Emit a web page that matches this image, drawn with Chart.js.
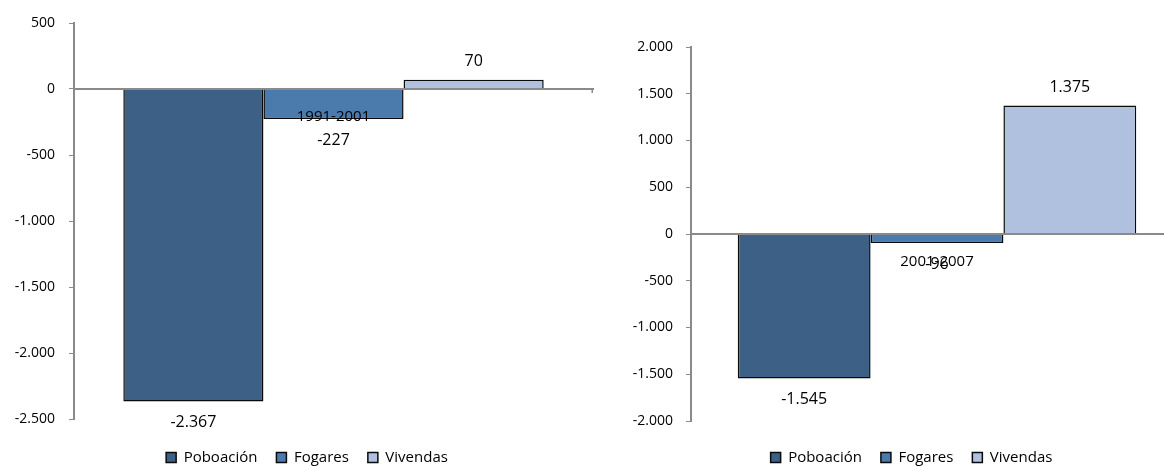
<!DOCTYPE html>
<html>
<head>
<meta charset="utf-8">
<script src="https://cdn.jsdelivr.net/npm/chart.js@4/dist/chart.umd.min.js"></script>
<style>
  html, body { margin: 0; padding: 0; background: #ffffff; width: 1164px; height: 466px; overflow: hidden; }
  .panel { position: absolute; top: 0; }
  #panelA { left: 0; }
  #panelB { left: 620px; }
</style>
</head>
<body>
<div class="panel" id="panelA"><canvas id="chartA" width="614" height="475"></canvas></div>
<div class="panel" id="panelB"><canvas id="chartB" width="563" height="475"></canvas></div>
<script>
// Series names and colours
const seriesNames = ['Poboación', 'Fogares', 'Vivendas'];
const seriesColors = ['#3D6087', '#4A7BAC', '#B0C0DF'];

// 1991-2001 variation
const periodA = ['1991-2001'];
const poboacionA = [-2367];
const fogaresA = [-227];
const vivendasA = [70];
const yTicksA = [-2500, -2000, -1500, -1000, -500, 0, 500];

// 2001-2007 variation
const periodB = ['2001-2007'];
const poboacionB = [-1545];
const fogaresB = [-96];
const vivendasB = [1375];
const yTicksB = [-2000, -1500, -1000, -500, 0, 500, 1000, 1500, 2000];

Chart.defaults.font.family = '"Open Sans", sans-serif';
Chart.defaults.color = '#000000';

const AXIS_GRAY = '#8a8a8a';

// Thousands separated with a dot: 2367 -> 2.367
function fmt(v) {
  const s = String(Math.abs(v)).replace(/\B(?=(\d{3})+(?!\d))/g, '.');
  return (v < 0 ? '-' : '') + s;
}

// Writes each bar's value beyond its end
const valueLabels = {
  id: 'valueLabels',
  afterDatasetsDraw(chart) {
    const ctx = chart.ctx;
    ctx.save();
    ctx.font = '16px "Open Sans", sans-serif';
    ctx.fillStyle = '#000000';
    ctx.textAlign = 'center';
    ctx.textBaseline = 'middle';
    chart.data.datasets.forEach((ds, i) => {
      chart.getDatasetMeta(i).data.forEach((bar, j) => {
        const v = ds.data[j];
        const y = v >= 0 ? bar.y - 18 : bar.y + 21;
        ctx.fillText(fmt(v), bar.x, y);
      });
    });
    ctx.restore();
  }
};

// Slides the legend sideways after layout
const legendShift = {
  id: 'legendShift',
  afterLayout(chart, args, opts) {
    const lg = chart.legend;
    if (lg && opts.dx) { lg.left += opts.dx; lg.right += opts.dx; }
  }
};

// Small downward cap at the far end of the category axis
const axisEndCap = {
  id: 'axisEndCap',
  afterDraw(chart, args, opts) {
    if (!opts.show) return;
    const x = chart.chartArea.right;
    const y = chart.scales.y.getPixelForValue(0);
    const ctx = chart.ctx;
    ctx.save();
    ctx.strokeStyle = AXIS_GRAY;
    ctx.lineWidth = 1.5;
    ctx.beginPath();
    ctx.moveTo(x - 0.75, y);
    ctx.lineTo(x - 0.75, y + 4);
    ctx.stroke();
    ctx.restore();
  }
};

function buildChart(canvasId, labels, values, ticks, cfg) {
  const datasets = values.map((data, i) => ({
    label: seriesNames[i],
    data: data,
    backgroundColor: seriesColors[i],
    borderColor: '#0a0a0a',
    borderWidth: 1.5,
    borderSkipped: 'start'
  }));
  return new Chart(document.getElementById(canvasId), {
    type: 'bar',
    data: { labels: labels, datasets: datasets },
    plugins: [valueLabels, legendShift, axisEndCap],
    options: {
      responsive: false,
      devicePixelRatio: 1,
      animation: false,
      events: [],
      layout: { padding: cfg.padding },
      datasets: { bar: { categoryPercentage: 0.81, barPercentage: 1 } },
      scales: {
        x: {
          type: 'category',
          position: { y: 0 },
          offset: true,
          grid: { display: true, drawOnChartArea: false, drawTicks: false },
          border: { display: true, color: AXIS_GRAY, width: 2, z: 1 },
          ticks: { z: 1, padding: 19, font: { size: 15 }, color: '#000000', maxRotation: 0 }
        },
        y: {
          min: ticks[0],
          max: ticks[ticks.length - 1],
          afterBuildTicks(scale) { scale.ticks = ticks.map(v => ({ value: v })); },
          afterFit(scale) { scale.width = cfg.axisWidth; },
          grid: { drawOnChartArea: false, drawTicks: true, tickLength: 5, color: AXIS_GRAY, lineWidth: 1 },
          border: { display: true, color: AXIS_GRAY, width: 2 },
          ticks: { padding: cfg.tickPad, font: { size: 14 }, color: '#000000', callback: v => fmt(v) }
        }
      },
      plugins: {
        tooltip: { enabled: false },
        legendShift: { dx: cfg.legendDx },
        axisEndCap: { show: cfg.endCap },
        // blank spacer between the plot and the legend
        title: {
          display: true, text: ' ', position: 'bottom', weight: 500,
          font: { size: 2, lineHeight: 1 }, padding: { top: cfg.gap - 2, bottom: 0 }
        },
        legend: {
          position: 'bottom',
          labels: { boxWidth: 10, boxHeight: 10, padding: 19, font: { size: 15 }, color: '#000000' }
        }
      }
    }
  });
}

buildChart('chartA', periodA, [poboacionA, fogaresA, vivendasA], yTicksA,
  { padding: { top: 23, left: 0, right: 21, bottom: 0 }, axisWidth: 74, tickPad: 14, gap: 12, legendDx: 10.5, endCap: true });

buildChart('chartB', periodB, [poboacionB, fogaresB, vivendasB], yTicksB,
  { padding: { top: 47, left: 0, right: 0, bottom: 0 }, axisWidth: 71, tickPad: 13, gap: 10, legendDx: 10, endCap: false });
</script>
</body>
</html>
